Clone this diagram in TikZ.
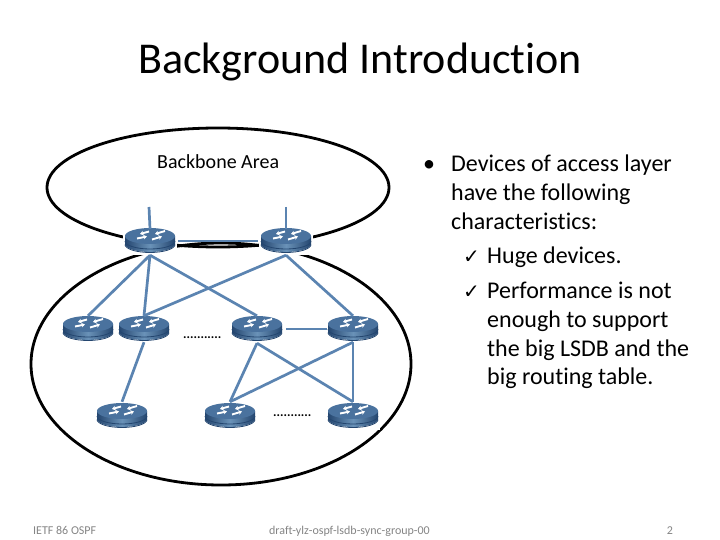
\documentclass[tikz,border=0pt]{standalone}
\usepackage{fontspec}
\setmainfont[Ligatures=NoCommon]{Carlito}
\newfontfamily\dvfont{DejaVu Sans}
\usetikzlibrary{arrows.meta}
\definecolor{linkblue}{HTML}{5B84B1}
\definecolor{footgray}{HTML}{858585}
\definecolor{rdark}{HTML}{24466F}
\definecolor{rmid}{HTML}{6A92B8}
\definecolor{rtop}{HTML}{4A729E}
\tikzset{
  routerbox/.style={rectangle,fill=white,minimum width=54pt,minimum height=30pt,inner sep=0pt},
  area/.style={draw=black,line width=2.8pt},
  link/.style={draw=linkblue,line width=2.7pt},
  txt/.style={anchor=base west,inner sep=0pt,text=black},
  body/.style={txt,font=\fontsize{24}{28}\selectfont},
  foot/.style={inner sep=0pt,text=footgray,font=\fontsize{12}{14}\selectfont,anchor=base},
  band/.style={draw=rdark,line width=.8pt},
  glyphmark/.style={draw=white,line width=1.9pt,-{Stealth[length=3.5pt,width=4.6pt]}},
  dotrow/.style={txt,font=\bfseries\fontsize{13}{14}\selectfont},
  tick/.style={txt,font=\dvfont\fontsize{20}{22}\selectfont}
}
\newcommand{\router}[3]{%
  \node[routerbox] (#1) at (#2,#3) {};
  \begin{scope}[shift={(#2,#3)}]
    \path[left color=rdark,right color=rdark,middle color=rmid]
      (-25,-4) -- (-25,4) arc[start angle=180,end angle=360,x radius=25pt,y radius=8pt] -- (25,-4) -- cycle;
    \draw[band] (-25,1) arc[start angle=180,end angle=360,x radius=25pt,y radius=8pt];
    \draw[band] (-25,4.5) arc[start angle=180,end angle=360,x radius=25pt,y radius=8pt];
    \fill[rtop] (0,-4) ellipse[x radius=25pt,y radius=8pt];
    \draw[glyphmark] (-13,-1.5) -- (-3,-3.5);
    \draw[glyphmark] (-1,-8.5) -- (-10,-6);
    \draw[glyphmark] (2,-0.5) -- (12,-3.5);
    \draw[glyphmark] (15,-9) -- (5,-6);
  \end{scope}
}
\begin{document}
\begin{tikzpicture}[x=1pt,y=-1pt]
\useasboundingbox (0,0) rectangle (720,540);
\fill[white] (0,0) rectangle (720,540);
% areas
\draw[area] (218,187.5) ellipse[x radius=171pt,y radius=59.5pt];
\draw[area] (221,364) ellipse[x radius=190pt,y radius=121pt];
% routers
\router{a}{150}{240}
\router{b}{286}{240}
\router{c}{88}{328}
\router{d}{144}{328}
\router{e}{257}{328}
\router{f}{353}{328}
\router{g}{122}{415}
\router{h}{230}{415}
\router{i}{353}{415}
\coordinate (astub) at (149,207);
\coordinate (bstub) at (286,207);
% links
\draw[link] (astub) -- ([yshift=-4pt]a.north);
\draw[link] (bstub) -- ([yshift=-4pt]b.north);
\draw[link] ([xshift=1pt,yshift=-1pt]a.east) -- ([xshift=-1pt,yshift=-1pt]b.west);
\draw[link] (a.south) -- ([yshift=-3pt]c.north);
\draw[link] (a.south) -- ([yshift=-3pt]d.north);
\draw[link] (a.south) -- ([yshift=-3pt]e.north);
\draw[link] (b.south) -- ([yshift=-3pt]d.north);
\draw[link] (b.south) -- ([yshift=-3pt]f.north);
\draw[link] ([yshift=1pt]d.south) -- ([yshift=-2pt]g.north);
\draw[link] (e.south) -- ([yshift=-2pt]h.north);
\draw[link] (e.south) -- ([yshift=-2pt]i.north);
\draw[link] ([yshift=1pt]f.south) -- ([yshift=-2pt]h.north);
\draw[link] ([yshift=1pt]f.south) -- ([yshift=-2pt]i.north);
\draw[link] ([xshift=2pt,yshift=-1pt]e.east) -- ([xshift=1pt,yshift=-1pt]f.west);
% text
\node[txt,font=\fontsize{44}{48}\selectfont] (title) at (138,74) {Background Introduction};
\node[txt,font=\fontsize{20}{22}\selectfont] (bb) at (157,169) {Backbone Area};
\node[body] (b0) at (423,171.5) {•};
\node[body] (l1) at (451,171.5) {Devices of access layer};
\node[body] (l2) at (451,200.5) {have the following};
\node[body] (l3) at (451,229.5) {characteristics:};
\node[tick] (c1) at (463,263) {✓};
\node[body] (l4) at (487,263.5) {Huge devices.};
\node[tick] (c2) at (463,298) {✓};
\node[body] (l5) at (487,298.5) {Performance is not};
\node[body] (l6) at (487,327.5) {enough to support};
\node[body] (l7) at (487,356) {the big LSDB and the};
\node[body] (l8) at (487,384.5) {big routing table.};
\node[dotrow] (d1) at (183,338) {...........};
\node[dotrow] (d2) at (273,416) {...........};
\node[foot,anchor=base west] (f1) at (33,534) {IETF 86 OSPF};
\node[foot] (f2) at (349.5,534) {draft-ylz-ospf-lsdb-sync-group-00};
\node[foot] (f3) at (670,534) {2};
\end{tikzpicture}
\end{document}
